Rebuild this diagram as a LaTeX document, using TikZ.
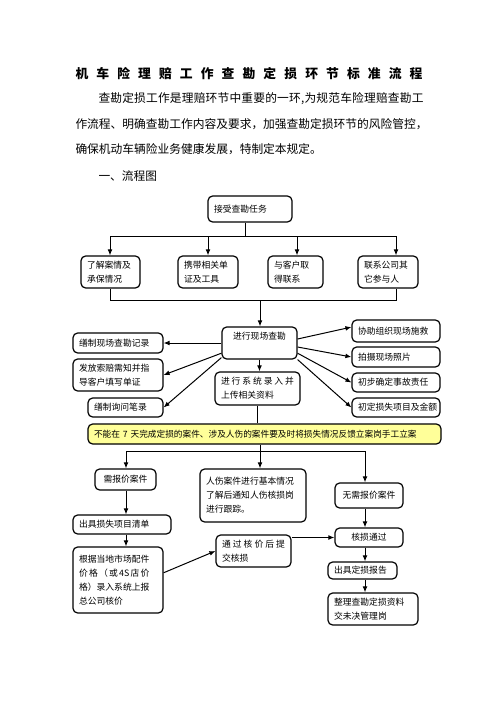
\documentclass[tikz,border=0pt]{standalone}
\usepackage{fontspec}
\usetikzlibrary{arrows.meta}
\newfontfamily\cjk{Noto Sans CJK SC}
\newcommand\boxfont{\cjk\fontsize{6.6pt}{10.5pt}\selectfont}
\newcommand\bodyfont{\cjk\fontsize{8.8pt}{12pt}\selectfont}
\newcommand\titlefont{\cjk\bfseries\fontsize{9.6pt}{12pt}\selectfont}
% spread the characters of a line over a given width
\newcommand\spr[2]{\makebox[#1][s]{\sprloop#2\relax}}
\def\sprloop#1{#1\futurelet\sprnext\sprcheck}
\def\sprcheck{\ifx\sprnext\relax\expandafter\sprgobble\else\hfil\expandafter\sprloop\fi}
\def\sprgobble#1{}
\tikzset{every picture/.style={line width=0.75pt}}

\begin{document}
\begin{tikzpicture}[x=0.75pt,y=0.75pt,yscale=-1,xscale=1,
  bx/.style={draw, line width=0.9pt, rounded corners=3.5pt, font=\boxfont, align=left, inner xsep=4.5pt, inner ysep=1pt},
  sz/.code 2 args={\pgfmathsetlengthmacro\boxw{#1*0.75pt-9pt}\pgfkeysalso{text width=\boxw, minimum height=#2*0.75pt}},
  txt/.style={inner sep=0pt, anchor=west},
  arr/.style={-{Latex[length=4.5pt,width=3.6pt]}}]
	\useasboundingbox (0,0) rectangle (496,702);

	% Text Node
	\node[txt, font=\titlefont] (title) at (75,74) {\spr{260.25pt}{机车险理赔工作查勘定损环节标准流程}};
	% Text Node
	\node[txt, font=\bodyfont] (p1) at (98,99) {\spr{243.75pt}{查勘定损工作是理赔环节中重要的一环,为规范车险理赔查勘工}};
	% Text Node
	\node[txt, font=\bodyfont] (p2) at (75,124) {\spr{261pt}{作流程、明确查勘工作内容及要求，加强查勘定损环节的风险管控，}};
	% Text Node
	\node[txt, font=\bodyfont] (p3) at (75,149) {确保机动车辆险业务健康发展，特制定本规定。};
	% Text Node
	\node[txt, font=\bodyfont] (sec) at (98,176) {一、流程图};

	%Rounded Rect
	\node[bx, sz={84}{26}] (task) at (250,209) {接受查勘任务};
	\node[bx, sz={59}{32}] (k1) at (110.5,272) {了解案情及\\承保情况};
	\node[bx, sz={60}{32}] (k2) at (208,272) {携带相关单\\证及工具};
	\node[bx, sz={55}{32}] (k3) at (295.5,272) {与客户取\\得联系};
	\node[bx, sz={60}{32}] (k4) at (388,272) {联系公司其\\它参与人};

	%Straight Lines
	\coordinate (t0) at (245,236);
	\coordinate (u1) at (110,236);
	\coordinate (u2) at (208,236);
	\coordinate (u3) at (297,236);
	\coordinate (u4) at (396,236);
	\draw (task.south -| t0) -- (t0);
	\draw (u1) -- (u4);
	\foreach \n in {1,...,4}
		\draw[arr] (u\n) -- (u\n |- k\n.north);

	%Rounded Rect
	\node[bx, sz={75}{32}, align=center] (site) at (259.5,343) {进行现场查勘\\ \mbox{}};
	\node[bx, sz={90}{20}] (rec) at (118,343) {缮制现场查勘记录};
	\node[bx, sz={90}{32}] (inf) at (118,375) {发放索赔需知并指\\导客户填写单证};
	\node[bx, sz={75}{19}] (ask) at (125.5,407.5) {缮制询问笔录};
	\node[bx, sz={88}{22}] (r1) at (396,331) {协助组织现场施救};
	\node[bx, sz={88}{20}] (r2) at (396,357) {拍摄现场照片};
	\node[bx, sz={88}{19}] (r3) at (396,382.5) {初步确定事故责任};
	\node[bx, sz={88}{19}] (r4) at (396,407.5) {初定损失项目及金额};
	\node[bx, sz={85}{33}] (sys) at (257.5,388.5) {\spr{\linewidth}{进行系统录入并}\\上传相关资料};

	%Straight Lines
	\coordinate (v1) at (110,300);
	\coordinate (v0) at (260,300);
	\coordinate (v4) at (396,300);
	\draw (u1 |- k1.south) -- (v1) -- (v4) -- (u4 |- k4.south);
	\draw[arr] (v0) -- (v0 |- site.north);
	\draw[arr] (site.west) -- (rec.east);
	\draw[arr] (site.195) -- (inf.east);
	\draw[arr] (site.201) -- (ask.east);
	\draw[arr] (site.6) -- (r1.175);
	\draw[arr] (site.354) -- (r2.west);
	\draw[arr] (site.345) -- (r3.west);
	\draw[arr] (site.south east) -- (r4.west);
	\draw[arr] (site.south) -- (site.south |- sys.north);

	%Rounded Rect
	\node[bx, sz={353}{20}, fill={rgb, 255:red, 255; green, 255; blue, 153 }, font=\cjk\fontsize{6.5pt}{10pt}\selectfont] (warn) at (264.5,434) {不能在 7 天完成定损的案件、涉及人伤的案件要及时将损失情况反馈立案岗手工立案};
	\draw (sys.south) -- (sys.south |- warn.north);

	%Rounded Rect
	\node[bx, sz={61}{21}, align=center] (quote) at (125.5,479.5) {需报价案件};
	\node[bx, sz={106}{53}] (hurt) at (253,495.5) {人伤案件进行基本情况\\了解后通知人伤核损岗\\进行跟踪。};
	\node[bx, sz={68}{25}, align=center] (noquote) at (369,495.5) {无需报价案件};
	\node[bx, sz={98}{19}] (list) at (122,524.5) {出具损失项目清单};
	\node[bx, sz={90}{66}] (price) at (118,580) {根据当地市场配件\\\spr{8em}{价格（或 {4S} 店价}\\\spr{8em}{格）录入系统上报}\\总公司核价};
	\node[bx, sz={75}{32}] (submit) at (253.5,551) {\spr{\linewidth}{通过核价后提}\\交核损};
	\node[bx, sz={68}{19}, align=center] (pass) at (369,537.5) {核损通过};
	\node[bx, sz={69}{17}] (report) at (362.5,570.5) {出具定损报告};
	\node[bx, sz={90}{32}] (file) at (373,609) {整理查勘定损资料\\交未决管理岗};

	%Straight Lines
	\coordinate (w1) at (126,451);
	\coordinate (w0) at (260,451);
	\coordinate (w3) at (365,451);
	\draw[arr] (warn.south -| w0) -- (w0 |- hurt.north);
	\draw (w1) -- (w3);
	\draw[arr] (w1) -- (w1 |- quote.north);
	\draw[arr] (w3) -- (w3 |- noquote.north);
	\draw[arr] (quote.south -| w1) -- (w1 |- list.north);
	\draw[arr] (list.south -| w1) -- (w1 |- price.north);
	\draw[arr] (price.9) -- (submit.west);
	\draw[arr] (noquote.south -| w3) -- (w3 |- pass.north);
	\draw[arr] (submit.east |- pass.west) -- (pass.west);
	\draw[arr] (pass.south -| w3) -- (w3 |- report.north);
	\draw[arr] (report.south -| w3) -- (w3 |- file.north);

\end{tikzpicture}
\end{document}
